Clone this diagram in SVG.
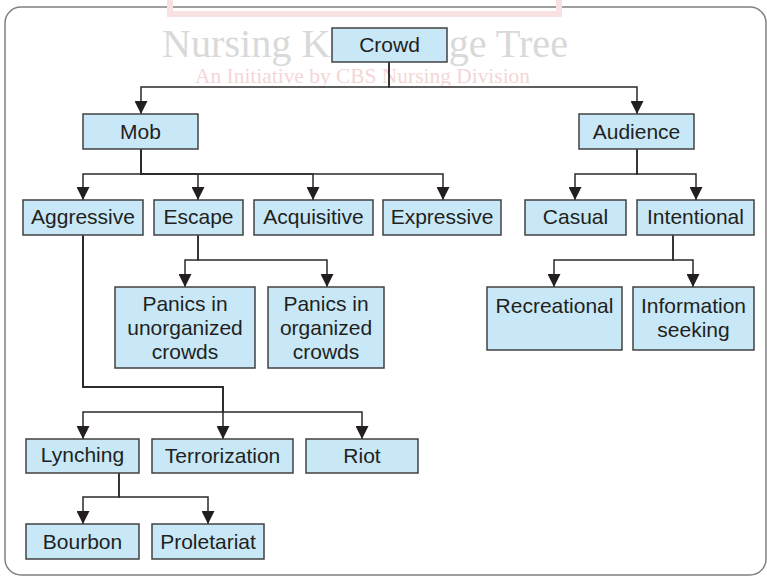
<svg xmlns="http://www.w3.org/2000/svg" width="767" height="576" viewBox="0 0 767 576">
<style>
.box{fill:#c8e8f7;stroke:#414141;stroke-width:1.5}
.lbl{font-family:"Liberation Sans",Arial,sans-serif;font-size:21px;fill:#231f20;text-anchor:middle}
.edge{fill:none;stroke:#2a2a2a;stroke-width:1.5}
.wm1{font-family:"Liberation Serif",serif;font-size:40px;fill:#d9d9d9}
.wm2{font-family:"Liberation Serif",serif;font-size:22px;fill:#f5d6d6}
</style>
<defs>
<marker id="arr" viewBox="0 0 13 13" refX="13" refY="6.5" markerWidth="13" markerHeight="13" orient="auto" markerUnits="userSpaceOnUse">
<path d="M0,0 L13,6.5 L0,13 z" fill="#231f20"/>
</marker>
</defs>
<rect x="0" y="0" width="767" height="576" fill="#ffffff"/>
<g id="frame">
<rect x="5" y="7" width="761" height="568" rx="16" ry="16" fill="none" stroke="#808080" stroke-width="1.5"/>
<rect x="170" y="-20" width="389" height="34" fill="none" stroke="#f9e1e1" stroke-width="6"/>
</g>
<g id="watermark">
<text class="wm1" x="162" y="57" textLength="406" lengthAdjust="spacingAndGlyphs">Nursing Knowledge Tree</text>
<text class="wm2" x="195" y="83" textLength="335" lengthAdjust="spacingAndGlyphs">An Initiative by CBS Nursing Division</text>
</g>
<g id="connectors">
<path class="edge" marker-end="url(#arr)" d="M389,62 V87 H141 V114"/>
<path class="edge" marker-end="url(#arr)" d="M389,62 V87 H637 V114"/>
<path class="edge" marker-end="url(#arr)" d="M141,149 V174 H83 V200"/>
<path class="edge" marker-end="url(#arr)" d="M141,149 V174 H198 V200"/>
<path class="edge" marker-end="url(#arr)" d="M141,149 V174 H313 V200"/>
<path class="edge" marker-end="url(#arr)" d="M141,149 V174 H443 V200"/>
<path class="edge" marker-end="url(#arr)" d="M637,149 V174 H575 V200"/>
<path class="edge" marker-end="url(#arr)" d="M637,149 V174 H696 V200"/>
<path class="edge" marker-end="url(#arr)" d="M198,235 V260 H185 V287"/>
<path class="edge" marker-end="url(#arr)" d="M198,235 V260 H327 V287"/>
<path class="edge" marker-end="url(#arr)" d="M673,235 V260 H554 V287"/>
<path class="edge" marker-end="url(#arr)" d="M673,235 V260 H693 V287"/>
<path class="edge" marker-end="url(#arr)" d="M83,235 V387 H223 V412 H83 V439"/>
<path class="edge" marker-end="url(#arr)" d="M83,235 V387 H223 V439"/>
<path class="edge" marker-end="url(#arr)" d="M83,235 V387 H223 V412 H362 V439"/>
<path class="edge" marker-end="url(#arr)" d="M119,473 V497 H83 V524"/>
<path class="edge" marker-end="url(#arr)" d="M119,473 V497 H208 V524"/>
</g>
<g id="crowd"><rect class="box" x="332" y="28" width="115" height="34"/><text class="lbl" x="389.5" y="52">Crowd</text></g>
<g id="mob"><rect class="box" x="83" y="114" width="115" height="35"/><text class="lbl" x="140.5" y="139">Mob</text></g>
<g id="audience"><rect class="box" x="579" y="114" width="115" height="35"/><text class="lbl" x="636.5" y="139">Audience</text></g>
<g id="aggressive"><rect class="box" x="23" y="200" width="120" height="35"/><text class="lbl" x="83" y="224">Aggressive</text></g>
<g id="escape"><rect class="box" x="154" y="200" width="89" height="35"/><text class="lbl" x="198.5" y="224">Escape</text></g>
<g id="acquisitive"><rect class="box" x="254" y="200" width="119" height="35"/><text class="lbl" x="313.5" y="224">Acquisitive</text></g>
<g id="expressive"><rect class="box" x="383" y="200" width="118" height="35"/><text class="lbl" x="442" y="224">Expressive</text></g>
<g id="casual"><rect class="box" x="525" y="200" width="101" height="35"/><text class="lbl" x="575.5" y="224">Casual</text></g>
<g id="intentional"><rect class="box" x="637" y="200" width="117" height="35"/><text class="lbl" x="695.5" y="224">Intentional</text></g>
<g id="panics-unorganized"><rect class="box" x="115" y="287" width="140" height="81"/><text class="lbl" x="185" y="311">Panics in</text><text class="lbl" x="185" y="335">unorganized</text><text class="lbl" x="185" y="359">crowds</text></g>
<g id="panics-organized"><rect class="box" x="268" y="287" width="116" height="81"/><text class="lbl" x="326" y="311">Panics in</text><text class="lbl" x="326" y="335">organized</text><text class="lbl" x="326" y="359">crowds</text></g>
<g id="recreational"><rect class="box" x="487" y="287" width="135" height="63"/><text class="lbl" x="554.5" y="313">Recreational</text></g>
<g id="information-seeking"><rect class="box" x="633" y="287" width="121" height="63"/><text class="lbl" x="693.5" y="313">Information</text><text class="lbl" x="693.5" y="337">seeking</text></g>
<g id="lynching"><rect class="box" x="26" y="439" width="113" height="34"/><text class="lbl" x="82.5" y="462">Lynching</text></g>
<g id="terrorization"><rect class="box" x="152" y="439" width="141" height="34"/><text class="lbl" x="222.5" y="463">Terrorization</text></g>
<g id="riot"><rect class="box" x="306" y="439" width="112" height="34"/><text class="lbl" x="362" y="463">Riot</text></g>
<g id="bourbon"><rect class="box" x="26" y="524" width="113" height="35"/><text class="lbl" x="82.5" y="549">Bourbon</text></g>
<g id="proletariat"><rect class="box" x="152" y="524" width="112" height="35"/><text class="lbl" x="208" y="549">Proletariat</text></g>
</svg>
